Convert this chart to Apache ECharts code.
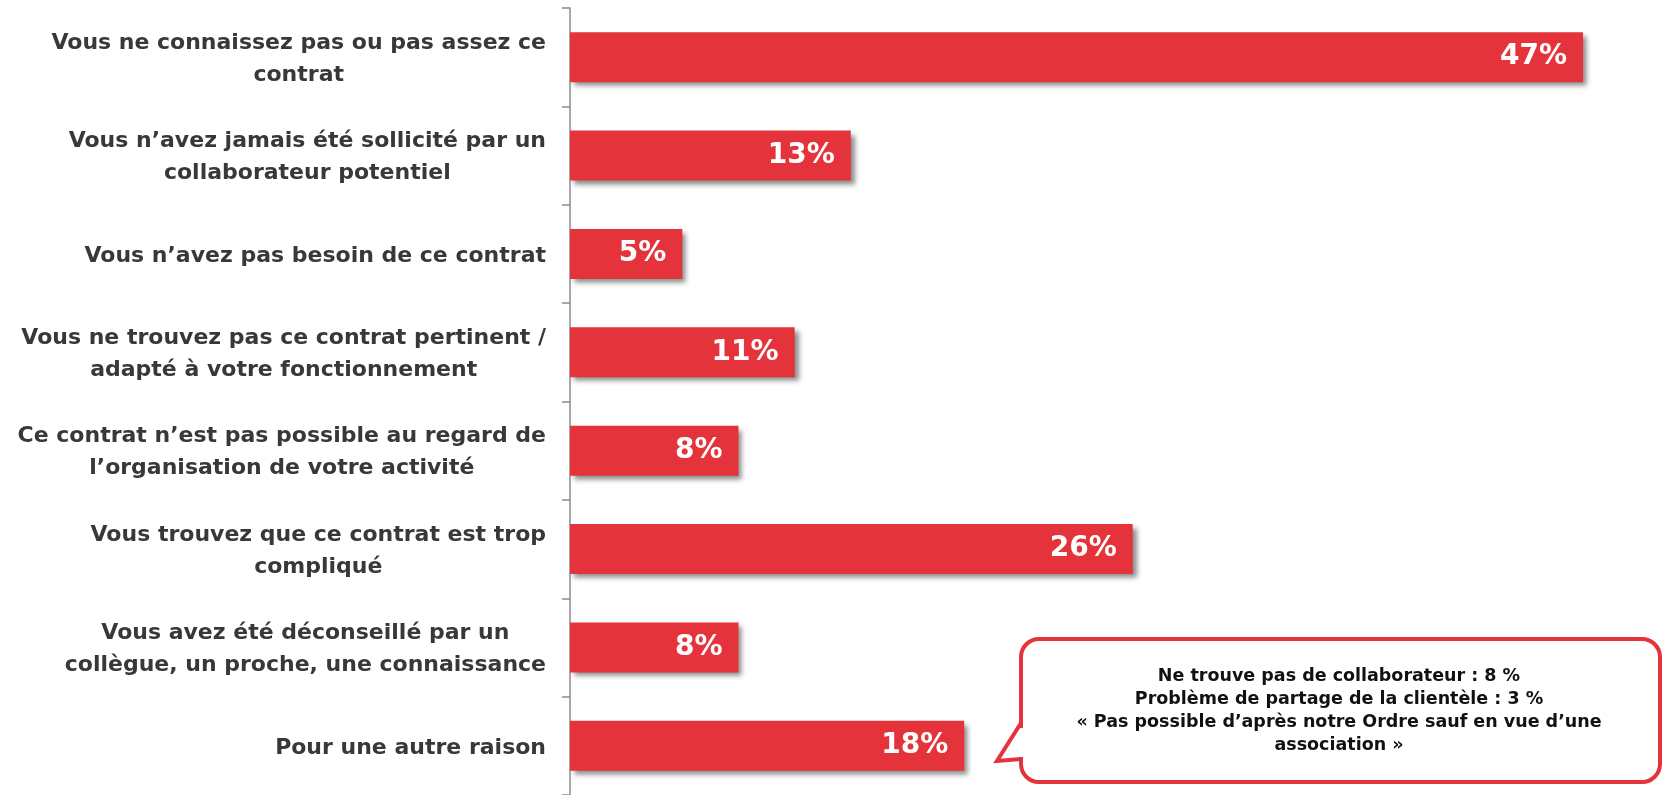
<!DOCTYPE html>
<html>
<head>
<meta charset="utf-8">
<script src="https://cdn.jsdelivr.net/npm/echarts@6/dist/echarts.min.js"></script>
<style>
html,body{margin:0;padding:0;background:#fff;}
#c{width:1663px;height:795px;}
</style>
</head>
<body>
<div id="c"></div>
<script>
const categories = [
  "Vous ne connaissez pas ou pas assez ce\ncontrat",
  "Vous n\u2019avez jamais été sollicité par un\ncollaborateur potentiel",
  "Vous n\u2019avez pas besoin de ce contrat",
  "Vous ne trouvez pas ce contrat pertinent /\nadapté à votre fonctionnement",
  "Ce contrat n\u2019est pas possible au regard de\nl\u2019organisation de votre activité",
  "Vous trouvez que ce contrat est trop\ncompliqué",
  "Vous avez été déconseillé par un\ncollègue, un proche, une connaissance",
  "Pour une autre raison"
];
// bar lengths
const values = [46.9, 13.0, 5.2, 10.4, 7.8, 26.05, 7.8, 18.25];
// percentages printed on the bars
const valueLabels = ["47%", "13%", "5%", "11%", "8%", "26%", "8%", "18%"];
const calloutLines = [
  "Ne trouve pas de collaborateur : 8 %",
  "Problème de partage de la clientèle : 3 %",
  "« Pas possible d\u2019après notre Ordre sauf en vue d\u2019une",
  "association »"
];

const chart = echarts.init(document.getElementById('c'), null, {renderer: 'canvas'});
const red = '#e4333b';
chart.setOption({
  animation: false,
  grid: {left: 570, right: 13, top: 8, bottom: -4, containLabel: false},
  xAxis: {type: 'value', min: 0, max: 50, show: false},
  yAxis: {
    type: 'category',
    data: categories,
    inverse: true,
    axisLine: {show: true, lineStyle: {color: '#8c8c8c', width: 1.5}},
    axisTick: {show: true, length: 8, lineStyle: {color: '#8c8c8c', width: 1.5}},
    axisLabel: {
      margin: 24,
      padding: [4, 0, 0, 0],
      formatter: function (v) {
        return v.split('\n').map(function (l) { return '{c|' + l + '}'; }).join('\n');
      },
      rich: {
        c: {
          align: 'center',
          fontFamily: 'DejaVu Sans',
          fontWeight: 'bold',
          fontSize: 22,
          lineHeight: 32,
          color: '#383838'
        }
      }
    }
  },
  series: [{
    type: 'bar',
    data: values,
    barWidth: 50,
    itemStyle: {
      color: red,
      shadowColor: 'rgba(0,0,0,0.45)',
      shadowBlur: 5,
      shadowOffsetX: 4,
      shadowOffsetY: 4
    },
    label: {
      show: true,
      position: 'insideRight',
      distance: 16,
      formatter: function (p) { return valueLabels[p.dataIndex]; },
      color: '#fff',
      fontFamily: 'DejaVu Sans',
      fontWeight: 'bold',
      fontSize: 28
    }
  }],
  graphic: [
    {
      type: 'rect',
      shape: {x: 1021, y: 639, width: 639, height: 143, r: 18},
      style: {fill: '#fff', stroke: red, lineWidth: 4},
      z: 10
    },
    {
      type: 'rect',
      shape: {x: 1018, y: 728, width: 7, height: 29},
      style: {fill: '#fff'},
      z: 11
    },
    {
      type: 'polyline',
      shape: {points: [[1021, 723], [997, 761], [1021, 759]]},
      style: {stroke: red, lineWidth: 4, fill: null, lineJoin: 'miter'},
      z: 12
    },
    {
      type: 'text',
      x: 1339,
      y: 711,
      style: {
        text: calloutLines.join('\n'),
        align: 'center',
        verticalAlign: 'middle',
        fontFamily: 'DejaVu Sans',
        fontWeight: 'bold',
        fontSize: 17.5,
        lineHeight: 23,
        fill: '#111'
      },
      z: 13
    }
  ]
});
</script>
</body>
</html>
